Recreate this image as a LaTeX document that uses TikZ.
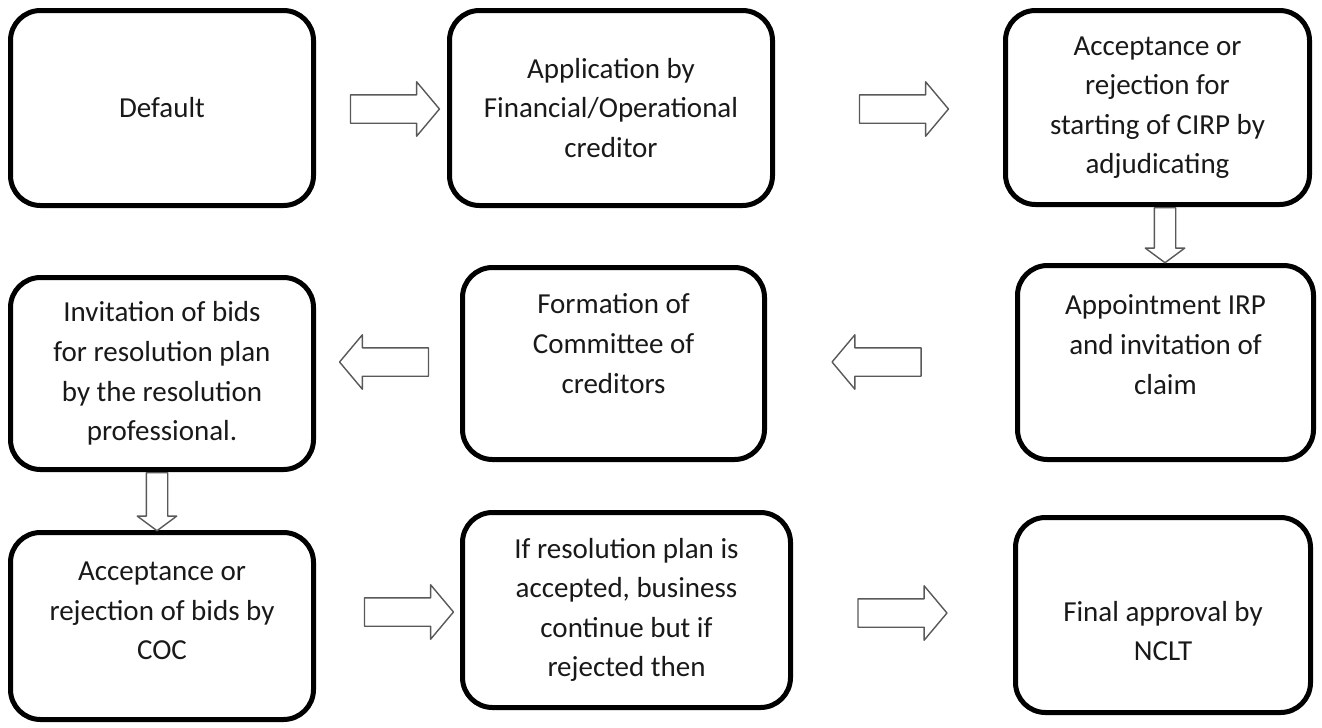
\documentclass[tikz,border=0pt]{standalone}
\usepackage{fontspec}
\setmainfont{Carlito}
\usetikzlibrary{shapes.arrows}

\begin{document}
\begin{tikzpicture}[line join=round,
  stepbox/.style={draw=black,line width=0.1cm,rounded corners=0.6cm,align=center,
    text=black!90,font=\fontsize{16.5}{22.5}\selectfont,inner sep=0pt},
  blockarrow/.style={single arrow,draw=black!65,line width=0.8pt,fill=white,
    inner sep=0.27cm,minimum width=0pt,minimum height=1.78cm,
    single arrow head extend=0.26cm,single arrow tip angle=100},
  downarrow/.style={blockarrow,inner sep=0.2cm,single arrow head extend=0.18cm,
    single arrow tip angle=107,shape border rotate=270,anchor=tail}]
  \useasboundingbox (0,0) rectangle (26.44,-14.54);

  \node[stepbox,minimum width=6.06cm,minimum height=3.9cm] (default) at (3.24,-2.16) {Default};
  \node[stepbox,minimum width=6.46cm,minimum height=3.9cm] (application) at (12.22,-2.16)
    {Application by\\Financial/Operational\\creditor};
  \node[stepbox,minimum width=6.08cm,minimum height=3.88cm] (acceptCIRP) at (23.15,-2.15)
    {Acceptance or\\rejection for\\starting of CIRP by\\adjudicating};

  \node[stepbox,minimum width=6.06cm,minimum height=3.84cm] (invitation) at (3.24,-7.47)
    {Invitation of bids\\for resolution plan\\by the resolution\\professional.};
  \node[stepbox,minimum width=6.04cm,minimum height=3.84cm,text depth=22.8pt] (formation) at (12.27,-7.27)
    {Formation of\\Committee of\\creditors};
  \node[stepbox,minimum width=5.92cm,minimum height=3.88cm,text depth=20.5pt] (appointment) at (23.31,-7.25)
    {Appointment IRP\\and invitation of\\claim};

  \node[stepbox,minimum width=6.06cm,minimum height=3.74cm,text depth=17pt] (acceptBids) at (3.24,-12.52)
    {Acceptance or\\rejection of bids by\\COC};
  \node[stepbox,minimum width=6.56cm,minimum height=3.9cm] (ifres) at (12.53,-12.2)
    {If resolution plan is\\accepted, business\\continue but if\\rejected then};
  \node[stepbox,minimum width=5.9cm,minimum height=3.9cm,text height=52pt] (final) at (23.26,-12.3)
    {Final approval by\\NCLT};

  \node[blockarrow] (arrA) at (7.78,-2.18) {};
  \node[blockarrow] (arrB) at (17.96,-2.18) {};
  \node[blockarrow,shape border rotate=180] (arrC) at (7.8,-7.24) {};
  \node[blockarrow,shape border rotate=180] (arrD) at (17.65,-7.24) {};
  \node[blockarrow] (arrE) at (8.06,-12.24) {};
  \node[blockarrow] (arrF) at (17.93,-12.26) {};

  \node[downarrow,minimum height=1.1cm] (downA) at ([xshift=0.15cm]acceptCIRP.south) {};
  \node[downarrow,minimum height=1.16cm] (downB) at ([xshift=-0.1cm]invitation.south) {};
\end{tikzpicture}
\end{document}
